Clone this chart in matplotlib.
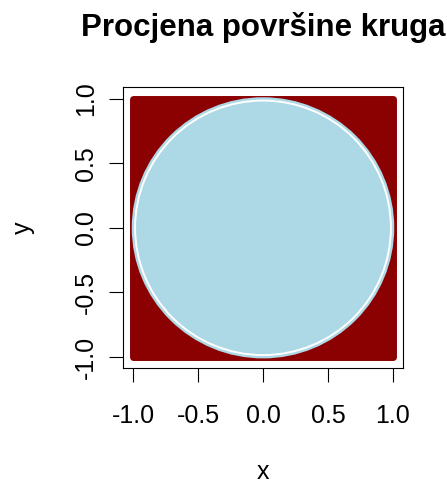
import matplotlib
matplotlib.use("Agg")
import matplotlib.pyplot as plt
from matplotlib.patches import Rectangle, Circle

# podaci: kvadrat [-1, 1] x [-1, 1] i jedinicni krug
square_half = 1.0
circle_radius = 1.0
outside_color = "#8B0000"   # darkred
inside_color = "#ADD8E6"    # lightblue
ticks = [-1.0, -0.5, 0.0, 0.5, 1.0]
tick_labels = ["-1.0", "-0.5", "0.0", "0.5", "1.0"]

plt.rcParams['font.family'] = ['Liberation Sans', 'DejaVu Sans']

fig = plt.figure(figsize=(4.47, 4.88), dpi=100)
ax = fig.add_axes([123 / 447, 1 - 368 / 488, 280 / 447, 281 / 488])

# tocke izvan kruga (kvadrat)
ax.add_patch(Rectangle((-square_half, -square_half), 2 * square_half, 2 * square_half,
                       facecolor=outside_color, edgecolor=outside_color,
                       linewidth=5, joinstyle='round'))
# tocke unutar kruga
ax.add_patch(Circle((0, 0), circle_radius, facecolor=inside_color,
                    edgecolor=inside_color, linewidth=2))
# rub kruga
ax.add_patch(Circle((0, 0), circle_radius * 0.985, facecolor='none',
                    edgecolor='white', linewidth=1.4))

ax.set_xlim(-1.078, 1.078)
ax.set_ylim(-1.085, 1.09)
ax.set_xticks(ticks)
ax.set_xticklabels(tick_labels)
ax.set_yticks(ticks)
ax.set_yticklabels(tick_labels, rotation=90, va='center')
ax.tick_params(length=10, width=0.8, labelsize=18, pad=16)
ax.tick_params(axis='y', pad=8)
for s in ax.spines.values():
    s.set_linewidth(0.8)

ax.set_title("Procjena površine kruga", fontsize=22.5, fontweight='bold', pad=37)
ax.set_xlabel("x", fontsize=18, labelpad=23)
ax.set_ylabel("y", fontsize=18, labelpad=28)

fig.savefig("out.png", dpi=100)
